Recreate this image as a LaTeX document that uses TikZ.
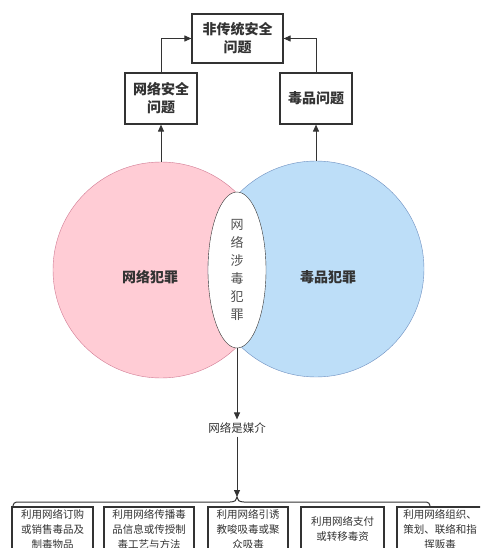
\documentclass[tikz,border=0pt]{standalone}
\usepackage{fontspec}
\setmainfont{Noto Sans CJK SC}
\usetikzlibrary{arrows.meta,shapes.geometric}
\definecolor{linegray}{RGB}{51,51,51}
\definecolor{pinkfill}{RGB}{255,204,213}
\definecolor{pinkline}{RGB}{208,120,145}
\definecolor{bluefill}{RGB}{189,222,248}
\definecolor{blueline}{RGB}{108,142,191}

\begin{document}
\begin{tikzpicture}[x=1pt,y=-1pt,
  box/.style={draw=linegray,fill=white,line width=1.2pt,align=center,inner sep=0pt,text=linegray},
  topbox/.style={box,font=\fontsize{14}{18}\selectfont\bfseries},
  lowbox/.style={box,minimum height=44pt,font=\fontsize{10.5}{15}\selectfont},
  arr/.style={draw=linegray,line width=1pt,-{Triangle[length=7pt,width=6pt]}}]
  \clip (0,0) rectangle (480,548);
  % problems
  \node[topbox,minimum width=91pt,minimum height=49pt](nts) at (237.5,38.5){非传统安全\\问题};
  \node[topbox,minimum width=72pt,minimum height=51pt](netsec) at (161,98.5){网络安全\\问题};
  \node[topbox,minimum width=72pt,minimum height=51pt](drugq) at (316,98.5){毒品问题};
  \draw[arr](netsec.north)|-(nts.west);
  \draw[arr](drugq.north)|-(nts.east);
  % crimes
  \node[circle,draw=pinkline,fill=pinkfill,minimum size=216pt,inner sep=0pt](netcrime) at (161,270){};
  \node[circle,draw=blueline,fill=bluefill,minimum size=216pt,inner sep=0pt](drugcrime) at (316,269){};
  \node[ellipse,draw=linegray,fill=white,minimum width=58pt,minimum height=156pt,inner sep=0pt,
    align=center,text=linegray!85,font=\fontsize{13}{18}\selectfont](both) at (237,270){网\\络\\涉\\毒\\犯\\罪};
  \node[font=\fontsize{14}{18}\selectfont\bfseries,text=linegray](netname) at (150,277){网络犯罪};
  \node[font=\fontsize{14}{18}\selectfont\bfseries,text=linegray](drugname) at (328,277){毒品犯罪};
  \draw[arr](netcrime.north)--(netsec.south);
  \draw[arr](drugcrime.north)--(drugq.south);
  % medium
  \node[font=\fontsize{11.5}{14}\selectfont,text=linegray,inner sep=3pt](media) at (237,428){网络是媒介};
  \draw[arr](both.south)--(media.north);
  \coordinate(tip) at (237,497);
  \draw[arr](media.south)--(tip);
  \draw[draw=linegray,line width=1pt](13,508) .. controls (13,503) and (14,502) .. (19,502)--(230,502)
    .. controls (235,502) and (237,500) .. (tip) .. controls (237,500) and (239,502) .. (244,502)--(424,502)
    .. controls (429,502) and (430,503) .. (430,508);
  % ways
  \node[lowbox,minimum width=81pt](way1) at (52.5,529){利用网络订购\\或销售毒品及\\制毒物品};
  \node[lowbox,minimum width=90pt](way2) at (149,529){利用网络传播毒\\品信息或传授制\\毒工艺与方法};
  \node[lowbox,minimum width=80pt](way3) at (248,529){利用网络引诱\\教唆吸毒或聚\\众吸毒};
  \node[lowbox,minimum width=83pt](way4) at (342.5,529){利用网络支付\\或转移毒资};
  \node[lowbox,minimum width=86pt](way5) at (440,529){利用网络组织、\\策划、联络和指\\挥贩毒};
\end{tikzpicture}
\end{document}
